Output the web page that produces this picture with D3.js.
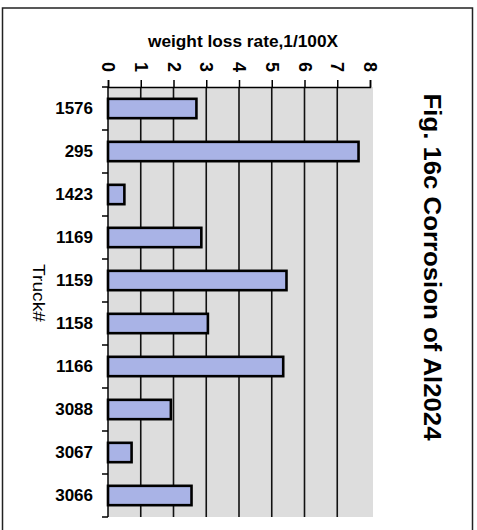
<!DOCTYPE html>
<html><head><meta charset="utf-8">
<script src="https://cdn.jsdelivr.net/npm/d3@7"></script>
<style>body{margin:0;background:#fff}svg{display:block}</style>
</head><body>
<script>
const categories = ["1576","295","1423","1169","1159","1158","1166","3088","3067","3066"];
const values = [2.7, 7.65, 0.5, 2.85, 5.45, 3.05, 5.35, 1.92, 0.72, 2.55];
const xTicks = [0,1,2,3,4,5,6,7,8];
const title = "Fig. 16c Corrosion of Al2024";
const xTitle = "weight loss rate,1/100X";
const yTitle = "Truck#";

const W = 477, H = 530;
const svg = d3.select("body").append("svg").attr("width", W).attr("height", H);
const font = "'Liberation Sans', Arial, sans-serif";

// outer frame
svg.append("rect").attr("x", 2.5).attr("y", 8).attr("width", 470).attr("height", 540)
  .attr("fill", "none").attr("stroke", "#222").attr("stroke-width", 1.5);

const x = d3.scaleLinear().domain([0, 8]).range([108, 370]);
const y = d3.scaleBand().domain(categories).range([87, 517]).paddingInner(0.55).paddingOuter(0.275);

// plot background
svg.append("rect").attr("x", x(0)).attr("y", y.range()[0])
  .attr("width", x(8) - x(0) + 3).attr("height", y.range()[1] - y.range()[0])
  .attr("fill", "#dddddd");

// gridlines
svg.append("g").selectAll("line").data(xTicks.filter(d => d > 0 && d < 8)).join("line")
  .attr("x1", d => x(d)).attr("x2", d => x(d))
  .attr("y1", y.range()[0]).attr("y2", y.range()[1])
  .attr("stroke", "#111").attr("stroke-width", 1.6);

// bars
svg.append("g").selectAll("rect").data(categories).join("rect")
  .attr("x", x(0)).attr("y", d => y(d))
  .attr("width", (d, i) => x(values[i]) - x(0)).attr("height", y.bandwidth())
  .attr("fill", "#a9b3e6").attr("stroke", "#000").attr("stroke-width", 2.6);

// top axis
const xAxis = d3.axisTop(x).tickValues(xTicks).tickSize(7).tickFormat("");
const gx = svg.append("g").attr("transform", `translate(0,${y.range()[0]})`).call(xAxis);
gx.select(".domain").attr("stroke", "#000").attr("stroke-width", 1.5);
gx.selectAll(".tick line").attr("stroke", "#000").attr("stroke-width", 1.5);

svg.append("g").selectAll("text").data(xTicks).join("text")
  .attr("transform", d => `translate(${x(d)},67) rotate(90)`)
  .attr("text-anchor", "middle").attr("dominant-baseline", "central")
  .attr("font-family", font).attr("font-size", 18).attr("font-weight", "bold")
  .attr("fill", "#000").text(d => d);

// left axis
const edges = d3.range(categories.length + 1).map(i => y.range()[0] + i * y.step());
svg.append("line").attr("x1", x(0)).attr("x2", x(0)).attr("y1", y.range()[0]).attr("y2", y.range()[1])
  .attr("stroke", "#000").attr("stroke-width", 1.5);
svg.append("g").selectAll("line").data(edges).join("line")
  .attr("x1", x(0) - 6).attr("x2", x(0)).attr("y1", d => d).attr("y2", d => d)
  .attr("stroke", "#000").attr("stroke-width", 1.5);

svg.append("g").selectAll("text").data(categories).join("text")
  .attr("x", 93).attr("y", d => y(d) + y.bandwidth() / 2)
  .attr("text-anchor", "end").attr("dominant-baseline", "central")
  .attr("font-family", font).attr("font-size", 17).attr("font-weight", "bold")
  .attr("fill", "#000").text(d => d);

// titles
svg.append("text").attr("x", 243).attr("y", 47).attr("text-anchor", "middle")
  .attr("font-family", font).attr("font-size", 16).attr("font-weight", "bold")
  .attr("textLength", 190).attr("lengthAdjust", "spacingAndGlyphs").text(xTitle);

svg.append("text").attr("transform", "translate(38,293) rotate(90)")
  .attr("text-anchor", "middle").attr("dominant-baseline", "central")
  .attr("font-family", font).attr("font-size", 17)
  .attr("textLength", 58).attr("lengthAdjust", "spacingAndGlyphs").text(yTitle);

svg.append("text").attr("transform", "translate(432,267) rotate(90)")
  .attr("text-anchor", "middle").attr("dominant-baseline", "central")
  .attr("font-family", font).attr("font-size", 24).attr("font-weight", "bold")
  .attr("textLength", 347).attr("lengthAdjust", "spacingAndGlyphs").text(title);
</script>
</body></html>
